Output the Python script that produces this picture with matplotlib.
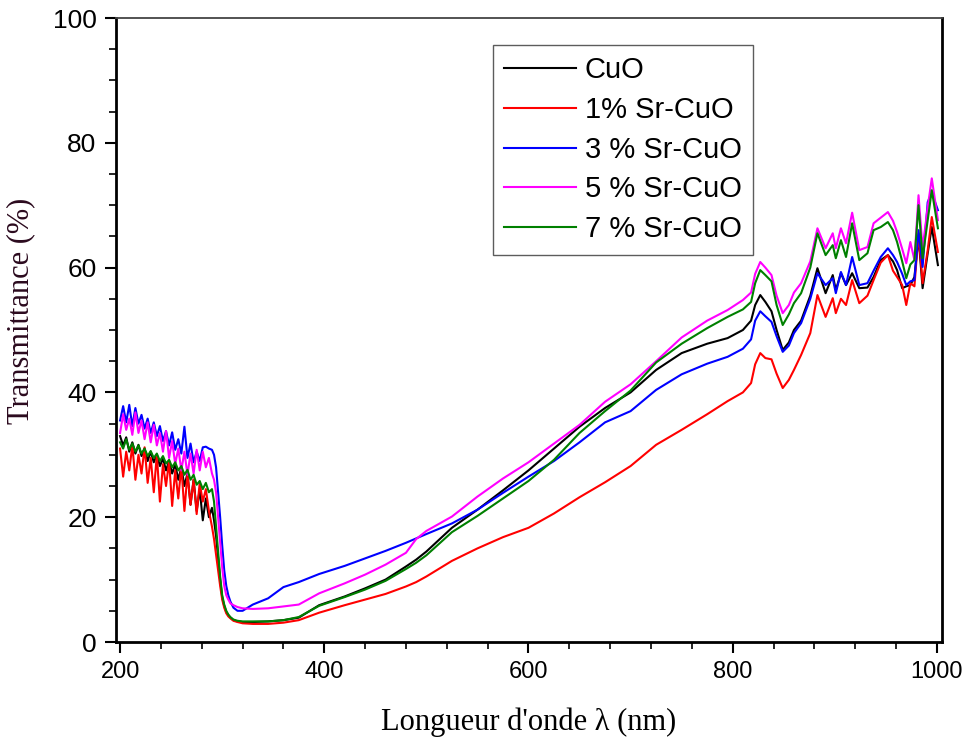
import matplotlib
matplotlib.use("Agg")
import matplotlib.pyplot as plt
from matplotlib.ticker import MultipleLocator

# longueurs d'onde (nm)
wl = [200, 203, 206, 209, 212, 215, 218, 221, 224, 227, 230, 233, 236, 239, 242, 245,
      248, 251, 254, 257, 260, 263, 266, 269, 272, 275, 278, 281, 284, 287, 290,
      292, 294, 296, 298, 300, 302, 304, 306, 308, 311, 315, 320, 330, 345, 360, 375, 395,
      420, 440, 460, 480, 490, 500, 525, 550, 575, 600, 625, 650, 675, 700, 725, 750, 775, 795, 810,
      818, 822, 827, 832, 838, 843, 849, 855, 860, 867,
      876, 883, 891, 898, 901, 906, 911, 917, 924, 932, 938, 945, 952, 957, 961, 966,
      970, 974, 978, 982, 986, 991, 995, 1001]

cuo = [33.0, 31.5, 32.8, 30.5, 32.0, 30.2, 31.6, 29.8, 31.0, 29.0, 30.5, 28.8, 30.0, 28.2, 29.4, 27.5,
       29.0, 27.0, 28.5, 26.0, 28.0, 25.0, 27.0, 22.0, 26.0, 21.0, 24.5, 19.5, 23.0, 20.0, 21.5,
       19.5, 17.0, 13.5, 10.0, 7.2, 5.8, 4.8, 4.3, 3.9, 3.5, 3.3, 3.2, 3.2, 3.3, 3.5, 3.9, 5.9,
       7.3, 8.6, 10.0, 12.1, 13.2, 14.5, 18.3, 21.2, 24.3, 27.5, 31.0, 34.5, 37.5, 40.0, 43.6, 46.3, 47.8, 48.7, 50.0,
       51.5, 54.0, 55.6, 54.5, 53.0, 50.0, 46.8, 48.0, 50.0, 51.5,
       55.5, 59.9, 55.9, 58.8, 56.4, 59.1, 57.2, 59.1, 56.7, 56.8, 58.5, 61.2, 62.0, 61.0, 59.6, 56.7,
       57.0, 57.2, 58.5, 64.9, 56.7, 62.3, 66.5, 60.4]

sr1 = [31.0, 26.5, 30.5, 27.5, 31.5, 26.0, 30.0, 27.0, 31.2, 25.5, 29.5, 24.0, 30.0, 22.5, 28.5, 25.0,
       29.0, 21.8, 27.5, 23.0, 28.2, 21.0, 27.0, 22.0, 26.0, 20.5, 25.5, 22.5, 24.5, 21.0, 18.5,
       16.5, 14.0, 11.5, 9.0, 6.8, 5.5, 4.6, 4.1, 3.8, 3.4, 3.2, 3.0, 2.9, 2.9, 3.1, 3.5, 4.7,
       5.9, 6.8, 7.7, 8.9, 9.6, 10.5, 13.0, 15.0, 16.8, 18.3, 20.6, 23.2, 25.6, 28.2, 31.6, 34.0, 36.5, 38.6, 40.0,
       41.5, 44.5, 46.3, 45.5, 45.3, 43.0, 40.7, 42.0, 43.6, 46.0,
       49.5, 55.6, 52.1, 55.1, 52.7, 55.0, 54.0, 58.0, 54.3, 55.5, 58.0, 60.8, 62.0, 59.5, 58.5, 57.2,
       54.0, 57.5, 57.0, 65.5, 57.5, 62.8, 68.1, 62.5]

sr3 = [35.5, 37.8, 35.2, 38.0, 34.6, 37.5, 35.0, 36.4, 34.2, 35.8, 33.5, 35.2, 33.0, 34.6, 32.2, 33.8,
       31.5, 33.6, 30.8, 32.5, 30.2, 34.5, 29.5, 31.8, 28.8, 30.5, 29.0, 31.2, 31.3, 31.0, 30.8,
       30.0, 28.0, 24.0, 20.0, 15.5, 11.5, 9.0, 7.5, 6.5, 5.5, 5.0, 5.0, 6.0, 7.0, 8.8, 9.6, 10.9,
       12.2, 13.4, 14.6, 15.9, 16.6, 17.3, 19.0, 21.2, 23.9, 26.5, 29.0, 32.0, 35.2, 37.0, 40.4, 42.9, 44.6, 45.7, 47.0,
       48.5, 51.5, 53.0, 52.2, 51.3, 49.0, 46.5, 47.5, 49.5, 51.1,
       55.0, 59.1, 57.2, 58.3, 55.9, 59.3, 57.2, 61.7, 57.2, 57.5, 59.5, 61.7, 63.1, 62.0, 60.9, 59.0,
       57.2, 57.8, 58.0, 66.0, 60.1, 70.5, 72.0, 69.2]

sr5 = [33.5, 36.5, 34.0, 35.8, 33.2, 36.8, 33.5, 35.5, 32.5, 35.2, 32.0, 34.8, 31.5, 33.5, 30.5, 33.8,
       29.5, 32.2, 28.5, 31.0, 27.5, 30.5, 26.8, 30.2, 27.0, 30.8, 27.5, 30.5, 28.0, 29.5, 27.0,
       26.0, 24.0, 20.0, 16.0, 12.0, 9.0, 7.5, 6.8, 6.2, 5.9, 5.6, 5.4, 5.3, 5.4, 5.7, 6.0, 7.8,
       9.4, 10.8, 12.4, 14.3, 16.5, 17.8, 20.1, 23.3, 26.2, 28.8, 31.8, 34.8, 38.5, 41.3, 45.0, 48.8, 51.5, 53.2, 54.8,
       56.0, 59.0, 60.9, 60.0, 58.8, 55.5, 52.7, 54.0, 56.0, 57.5,
       61.0, 66.3, 63.1, 65.5, 63.1, 66.3, 63.9, 68.8, 62.8, 63.3, 67.1, 68.0, 68.9, 67.5, 65.7, 63.0,
       60.7, 64.1, 61.2, 71.6, 63.1, 69.7, 74.3, 67.6]

sr7 = [32.0, 31.0, 32.5, 30.8, 31.8, 30.5, 31.5, 30.2, 31.0, 29.8, 30.6, 29.5, 30.2, 29.0, 29.8, 28.6,
       29.2, 28.0, 28.8, 27.5, 28.2, 26.8, 27.6, 26.0, 26.8, 25.2, 25.8, 24.5, 25.5, 24.0, 24.5,
       22.5, 18.5, 14.5, 10.5, 7.5, 6.0, 5.0, 4.4, 4.0, 3.6, 3.4, 3.3, 3.3, 3.3, 3.5, 4.0, 5.8,
       7.2, 8.4, 9.8, 11.7, 12.7, 13.9, 17.6, 20.2, 23.0, 25.8, 29.2, 33.5, 37.0, 40.3, 44.8, 47.8, 50.3, 52.1, 53.3,
       54.5, 57.5, 59.6, 58.8, 57.8, 54.0, 50.8, 52.5, 54.3, 55.9,
       60.0, 65.5, 62.0, 63.6, 61.5, 64.4, 61.7, 67.1, 61.2, 62.3, 66.0, 66.5, 67.3, 66.0, 64.1, 61.0,
       58.3, 60.5, 61.2, 70.0, 61.5, 67.6, 72.4, 66.3]

labels = ["CuO", "1% Sr-CuO", "3 % Sr-CuO", "5 % Sr-CuO", "7 % Sr-CuO"]
series = [cuo, sr1, sr3, sr5, sr7]
colors = ["black", "#ff0000", "#0000ff", "#ff00ff", "#008000"]

fig = plt.figure(figsize=(9.65, 7.44), dpi=100)
ax = fig.add_axes([116 / 965, 1 - 642 / 744, (942 - 116) / 965, (642 - 18) / 744])

for y, lab, c in zip(series, labels, colors):
    ax.plot(wl, y, color=c, lw=1.5, label=lab)

ax.set_xlim(196, 1005)
ax.set_ylim(0, 100)
ax.xaxis.set_major_locator(MultipleLocator(200))
ax.xaxis.set_minor_locator(MultipleLocator(40))
ax.yaxis.set_major_locator(MultipleLocator(20))
ax.yaxis.set_minor_locator(MultipleLocator(5))

ax.tick_params(which="major", direction="out", length=8, width=1.5, pad=6)
ax.tick_params(which="minor", direction="out", length=5, width=1.2)
for lbl in ax.get_xticklabels():
    lbl.set_fontfamily("Liberation Sans")
    lbl.set_fontsize(17)
for lbl in ax.get_yticklabels():
    lbl.set_fontfamily("Liberation Sans")
    lbl.set_fontsize(19)

for s in ["left", "bottom", "right"]:
    ax.spines[s].set_linewidth(2)
ax.spines["top"].set_linewidth(1.3)
ax.spines["top"].set_color("#444444")

ax.set_xlabel("Longueur d'onde λ (nm)", fontfamily="Liberation Serif", fontsize=22, labelpad=17)
ax.set_ylabel("Transmittance (%)", fontfamily="Liberation Serif", fontsize=22, color="#2b0a1e")
ax.yaxis.set_label_coords(-0.098, 0.53)

leg = ax.legend(loc="upper left", bbox_to_anchor=(0.456, 0.957), borderaxespad=0,
                prop={"family": "Liberation Sans", "size": 21}, frameon=True, fancybox=False,
                handlelength=2.45, handletextpad=0.3, labelspacing=0.4, borderpad=0.4)
leg.get_frame().set_edgecolor("#333333")
leg.get_frame().set_linewidth(1.0)

fig.savefig("out.png", dpi=100)
